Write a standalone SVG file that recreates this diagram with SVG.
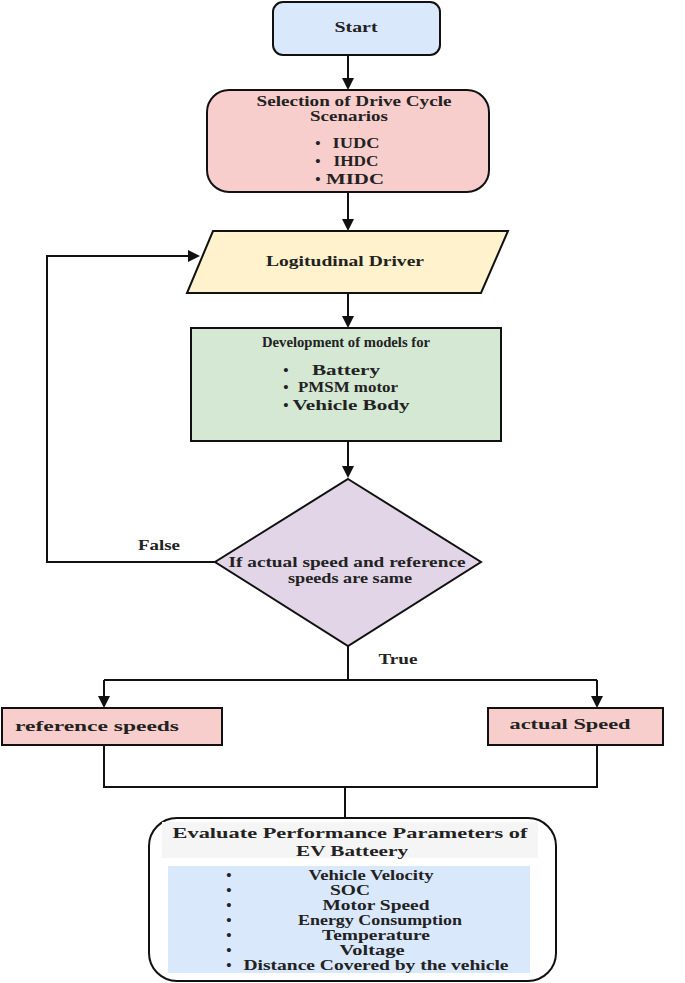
<svg xmlns="http://www.w3.org/2000/svg" width="685" height="983" viewBox="0 0 685 983">
<style>
text{font-family:"Liberation Serif",serif;font-weight:bold;fill:#222;text-anchor:middle;font-size:15px}
.s{stroke:#111;stroke-width:2}
.c{fill:none;stroke:#111;stroke-width:2}
</style>
<defs><marker id="a" markerWidth="12" markerHeight="12" refX="10" refY="6" orient="auto" markerUnits="userSpaceOnUse"><path d="M0,0L12,6L0,12z" fill="#111"/></marker></defs>
<rect width="685" height="983" fill="#fff"/>
<g id="connectors">
<path class="c" d="M348,55V88" marker-end="url(#a)"/>
<path class="c" d="M348,192V229" marker-end="url(#a)"/>
<path class="c" d="M348,293V326" marker-end="url(#a)"/>
<path class="c" d="M348,441V476" marker-end="url(#a)"/>
<path class="c" d="M215,562H47V256H198" marker-end="url(#a)"/>
<path class="c" d="M348,646V680"/>
<path class="c" d="M104,680H597"/>
<path class="c" d="M104,680V706" marker-end="url(#a)"/>
<path class="c" d="M597,680V706" marker-end="url(#a)"/>
<path class="c" d="M104,745V787H597V745M345,787V818"/>
<text x="159" y="550" textLength="42" lengthAdjust="spacingAndGlyphs">False</text>
<text x="398" y="664" textLength="39" lengthAdjust="spacingAndGlyphs">True</text>
</g>
<g id="start"><rect class="s" x="273" y="2" width="167" height="53" rx="10" fill="#dae8fc"/><text x="356" y="32" textLength="43" lengthAdjust="spacingAndGlyphs">Start</text></g>
<g id="selection"><rect class="s" x="207" y="90" width="282" height="102" rx="22" fill="#f8cecc"/>
<text x="354" y="106" textLength="195" lengthAdjust="spacingAndGlyphs">Selection of Drive Cycle</text><text x="349" y="121" textLength="78" lengthAdjust="spacingAndGlyphs">Scenarios</text>
<text x="318" y="148">•</text><text x="318" y="166">•</text><text x="318" y="184">•</text>
<text x="356" y="148" font-size="17" textLength="47" lengthAdjust="spacingAndGlyphs">IUDC</text><text x="356" y="166" font-size="17" textLength="45" lengthAdjust="spacingAndGlyphs">IHDC</text><text x="355" y="184" font-size="17" textLength="58" lengthAdjust="spacingAndGlyphs">MIDC</text></g>
<g id="driver"><polygon class="s" points="213,231 508,231 481,293 187,293" fill="#fff2cc"/><text x="345" y="266" textLength="158" lengthAdjust="spacingAndGlyphs">Logitudinal Driver</text></g>
<g id="models"><rect class="s" x="191" y="328" width="310" height="113" fill="#d5e8d4"/>
<text x="346" y="347" textLength="168" lengthAdjust="spacingAndGlyphs">Development of models for</text>
<text x="286" y="375">•</text><text x="286" y="392">•</text><text x="286" y="410">•</text>
<text x="346" y="375" font-size="16" textLength="68" lengthAdjust="spacingAndGlyphs">Battery</text><text x="348" y="392" font-size="16" textLength="100" lengthAdjust="spacingAndGlyphs">PMSM motor</text><text x="351" y="410" font-size="16" textLength="117" lengthAdjust="spacingAndGlyphs">Vehicle Body</text></g>
<g id="decision"><polygon class="s" points="348,479 481,562 348,646 215,562" fill="#e1d5e7"/>
<text x="347" y="567" textLength="237" lengthAdjust="spacingAndGlyphs">If actual speed and reference</text><text x="350" y="583" textLength="124" lengthAdjust="spacingAndGlyphs">speeds are same</text></g>
<g id="ref"><rect class="s" x="2" y="708" width="220" height="37" fill="#f8cecc"/><text x="97" y="731" textLength="164" lengthAdjust="spacingAndGlyphs">reference speeds</text></g>
<g id="actual"><rect class="s" x="488" y="708" width="175" height="37" fill="#f8cecc"/><text x="570" y="729" textLength="121" lengthAdjust="spacingAndGlyphs">actual  Speed</text></g>
<g id="evaluate"><rect class="s" x="149" y="818" width="407" height="163" rx="28" fill="#fff"/>
<rect x="162" y="822" width="376" height="36" fill="#f5f5f5"/>
<text x="350" y="838" font-size="17" fill="#444" textLength="355" lengthAdjust="spacingAndGlyphs">Evaluate Performance Parameters of</text><text x="352" y="856" font-size="17" textLength="112" lengthAdjust="spacingAndGlyphs">EV Batteery</text>
<rect x="168" y="866" width="362" height="107" fill="#dae8fc"/>
<text x="371" y="880" textLength="125" lengthAdjust="spacingAndGlyphs">Vehicle Velocity</text><text x="350" y="895" textLength="40" lengthAdjust="spacingAndGlyphs">SOC</text><text x="376" y="910" textLength="107" lengthAdjust="spacingAndGlyphs">Motor Speed</text><text x="380" y="925" textLength="164" lengthAdjust="spacingAndGlyphs">Energy Consumption</text><text x="376" y="940" textLength="108" lengthAdjust="spacingAndGlyphs">Temperature</text><text x="372" y="955" textLength="65" lengthAdjust="spacingAndGlyphs">Voltage</text><text x="376" y="970" textLength="265" lengthAdjust="spacingAndGlyphs">Distance Covered by the vehicle</text>
<text x="229" y="880">•</text><text x="229" y="895">•</text><text x="229" y="910">•</text><text x="229" y="925">•</text><text x="229" y="940">•</text><text x="229" y="955">•</text><text x="229" y="970">•</text>
</g>
</svg>
